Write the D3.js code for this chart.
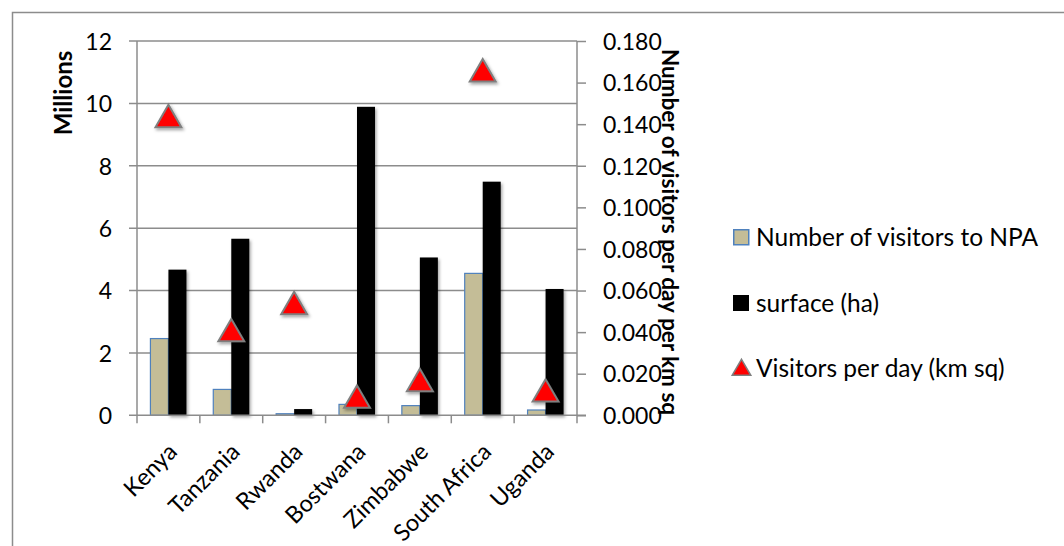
<!DOCTYPE html>
<html><head><meta charset="utf-8">
<script src="https://cdn.jsdelivr.net/npm/d3@7/dist/d3.min.js"></script>
<style>body{margin:0;background:#fff}svg{display:block}text{font-family:Lato,"Open Sans",sans-serif;fill:#000}</style>
</head><body><svg id="c" width="1064" height="546"></svg>
<script>
const categories = ["Kenya","Tanzania","Rwanda","Bostwana","Zimbabwe","South Africa","Uganda"];
const visitorsNPA = [2.46,0.83,0.05,0.35,0.31,4.55,0.17];      // millions
const surfaceHa   = [4.67,5.66,0.20,9.89,5.06,7.49,4.05];      // millions
const visitorsPerDay = [0.144,0.041,0.054,0.009,0.017,0.166,0.012];
const leftTicks = [0,2,4,6,8,10,12];
const rightTicks = [0,0.02,0.04,0.06,0.08,0.10,0.12,0.14,0.16,0.18];
const seriesNames = ["Number of visitors to NPA","surface (ha)","Visitors per day (km sq)"];

const svg = d3.select("#c");
const L=137, R=577, T=41, B=415.3;
const defs = svg.append("defs");
const f = defs.append("filter").attr("id","sh").attr("x","-50%").attr("y","-50%").attr("width","200%").attr("height","200%");
f.append("feDropShadow").attr("dx",1.5).attr("dy",2).attr("stdDeviation",1.5).attr("flood-color","#000").attr("flood-opacity",0.35);

// outer border
svg.append("rect").attr("x",12.5).attr("y",12.5).attr("width",1080).attr("height",560).attr("fill","none").attr("stroke","#8c8c8c").attr("stroke-width",1.5);

const x = d3.scaleBand().domain(categories).range([L,R]).paddingInner(0).paddingOuter(0);
const y = d3.scaleLinear().domain([0,12]).range([B,T]);
const y2 = d3.scaleLinear().domain([0,0.18]).range([B,T]);
const sub = d3.scaleBand().domain([0,1]).range([0,x.bandwidth()]).paddingInner(0).paddingOuter(0.745);

// gridlines
svg.append("g").selectAll("line").data(leftTicks.filter(d=>d>0)).join("line")
  .attr("x1",L-8).attr("x2",R).attr("y1",d=>y(d)).attr("y2",d=>y(d))
  .attr("stroke","#8c8c8c").attr("stroke-width",1.5);

// bars
const g = svg.append("g");
g.selectAll("rect.a").data(visitorsNPA).join("rect").attr("class","a")
  .attr("x",(d,i)=>x(categories[i])+sub(0)).attr("width",sub.bandwidth())
  .attr("y",d=>y(d)).attr("height",d=>B-y(d))
  .attr("fill","#c4bd97").attr("stroke","#4f81bd").attr("stroke-width",1.2);
g.selectAll("rect.b").data(surfaceHa).join("rect").attr("class","b")
  .attr("x",(d,i)=>x(categories[i])+sub(1)).attr("width",sub.bandwidth())
  .attr("y",d=>y(d)).attr("height",d=>B-y(d))
  .attr("fill","#000").attr("filter","url(#sh)");

// axes lines
const axc="#8c8c8c";
svg.append("line").attr("x1",L).attr("x2",L).attr("y1",T).attr("y2",B).attr("stroke",axc).attr("stroke-width",1.5);
svg.append("line").attr("x1",R).attr("x2",R).attr("y1",T).attr("y2",B).attr("stroke",axc).attr("stroke-width",1.5);
svg.append("line").attr("x1",L-8).attr("x2",R+9).attr("y1",B).attr("y2",B).attr("stroke",axc).attr("stroke-width",1.5);

// left axis
const ax = d3.axisLeft(y).tickValues(leftTicks).tickSize(0).tickPadding(25).tickFormat(d3.format("d"));
const gl = svg.append("g").attr("transform",`translate(${L},0)`).call(ax);
gl.select(".domain").remove();
gl.selectAll("text").style("font-size","23px").attr("dy","0.36em");

// right axis
const ax2 = d3.axisRight(y2).tickValues(rightTicks).tickSize(9).tickPadding(17).tickFormat(d3.format(".3f"));
const gr = svg.append("g").attr("transform",`translate(${R},0)`).call(ax2);
gr.select(".domain").remove();
gr.selectAll("line").attr("stroke",axc).attr("stroke-width",1.5);
gr.selectAll("text").style("font-size","23px").attr("dy","0.36em");

// bottom axis ticks + labels
const bticks = categories.map(c=>x(c)).concat([R]);
svg.append("g").selectAll("line").data(bticks).join("line")
  .attr("x1",d=>d).attr("x2",d=>d).attr("y1",B).attr("y2",B+8).attr("stroke",axc).attr("stroke-width",1.5);
svg.append("g").selectAll("text").data(categories).join("text")
  .attr("transform",d=>`translate(${x(d)+x.bandwidth()/2-2},${B+26}) rotate(-45)`)
  .attr("text-anchor","end").attr("dy","0.72em").style("font-size","23.5px").text(d=>d);

// triangles
const tri = d3.symbol().type(d3.symbolTriangle).size(290);
svg.append("g").selectAll("path").data(visitorsPerDay).join("path")
  .attr("d",tri).attr("transform",(d,i)=>`translate(${x(categories[i])+x.bandwidth()/2},${y2(d)+3.8})`)
  .attr("fill","#ff0000").attr("stroke","#7f7f7f").attr("stroke-width",2).attr("filter","url(#sh)");

// axis titles
svg.append("text").attr("transform",`translate(72,93) rotate(-90)`).attr("text-anchor","middle")
  .style("font-size","24px").style("font-weight","bold").text("Millions");
svg.append("text").attr("transform",`translate(662,232) rotate(90)`).attr("text-anchor","middle")
  .style("font-size","22.5px").style("font-weight","bold").text("Number of visitors per day per km sq");

// legend
const lg = svg.append("g").attr("transform","translate(733,237)");
const rows=[0,66,131];
lg.append("rect").attr("x",0.75).attr("y",-7.25).attr("width",15).attr("height",15).attr("fill","#c4bd97").attr("stroke","#4f81bd").attr("stroke-width",1.5);
lg.append("rect").attr("x",0).attr("y",rows[1]-8).attr("width",16).attr("height",16).attr("fill","#000");
lg.append("path").attr("d",d3.symbol().type(d3.symbolTriangle).size(150)).attr("transform",`translate(8.5,${rows[2]+2})`)
  .attr("fill","#ff0000").attr("stroke","#7f7f7f").attr("stroke-width",1.5);
lg.selectAll("text").data(seriesNames).join("text").attr("x",23).attr("y",(d,i)=>rows[i]).attr("dy","0.36em")
  .style("font-size","24.5px").text(d=>d);
</script></body></html>
